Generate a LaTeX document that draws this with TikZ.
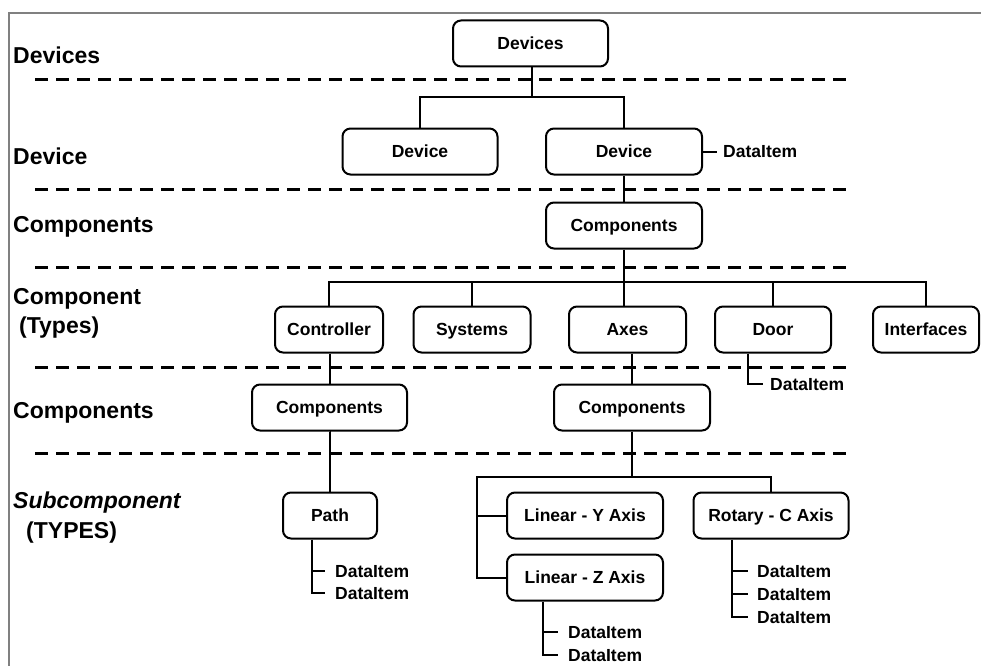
\documentclass[tikz,border=0pt]{standalone}
\usepackage{fontspec}
\setmainfont{Liberation Sans}
\begin{document}
\begin{tikzpicture}[x=1pt,y=-1pt,
  box/.style={draw, rounded corners=8pt, line width=2pt, minimum height=46pt,
    inner sep=0pt, text height=12.5pt, text depth=0pt,
    font=\fontsize{17.5}{20}\selectfont\bfseries},
  item/.style={anchor=west, inner sep=0pt, text height=12.5pt, text depth=0pt,
    font=\fontsize{17.5}{20}\selectfont\bfseries},
  level/.style={anchor=west, inner sep=0pt, text height=16.5pt, text depth=0pt,
    font=\fontsize{23}{26}\selectfont\bfseries},
  link/.style={line width=2pt},
  divider/.style={line width=3pt, dash pattern=on 13pt off 8pt},
  frame/.style={line width=2.5pt, draw=black!50}]
\useasboundingbox (0,0) rectangle (981,666);

% outer frame (top and left edges)
\draw[frame] (981,13) -- (9,13) -- (9,666);

% level dividers
\foreach \yy in {80,189,267,367,453}
  \draw[divider] (35,\yy) -- (850,\yy);

% level names
\node[level] (lDevices) at (13,55) {Devices};
\node[level] (lDevice) at (13,156) {Device};
\node[level] (lComps) at (13,224) {Components};
\node[level] (lComp) at (13,296.5) {Component};
\node[level] (lTypes) at (19,325.5) {(Types)};
\node[level] (lComps2) at (13,410.5) {Components};
\node[level,font=\fontsize{23}{26}\selectfont\bfseries\itshape] (lSub) at (13,500) {Subcomponent};
\node[level] (lTYPES) at (26,530) {(TYPES)};

% nodes
\node[box, minimum width=155pt] (devs) at (530.5,43.5) {Devices};
\node[box, minimum width=155pt] (devL) at (420,151.5) {Device};
\node[box, minimum width=156pt] (devR) at (624,151.5) {Device};
\node[box, minimum width=156pt] (compsA) at (624,225.5) {Components};

\node[box, minimum width=108pt] (ctrl) at (329,329.5) {Controller};
\node[box, minimum width=117pt] (sys) at (472,329.5) {Systems};
\node[box, minimum width=117pt] (axes) at (627.5,329.5) {Axes};
\node[box, minimum width=116pt] (door) at (773,329.5) {Door};
\node[box, minimum width=106pt] (intf) at (926,329.5) {Interfaces};

\node[box, minimum width=155pt] (compsL) at (329.5,407.5) {Components};
\node[box, minimum width=156pt] (compsR) at (632,407.5) {Components};

\node[box, minimum width=94pt] (path) at (330,515.5) {Path};
\node[box, minimum width=156pt] (liny) at (585,515.5) {Linear - Y Axis};
\node[box, minimum width=156pt] (linz) at (585,577.5) {Linear - Z Axis};
\node[box, minimum width=155pt] (rotc) at (771,515.5) {Rotary - C Axis};

% data items
\node[item] (dDev) at (723,151.5) {DataItem};
\node[item] (dDoor) at (770,384) {DataItem};
\node[item] (dP1) at (335,571) {DataItem};
\node[item] (dP2) at (335,593) {DataItem};
\node[item] (dZ1) at (568,632) {DataItem};
\node[item] (dZ2) at (568,655) {DataItem};
\node[item] (dC1) at (757,571) {DataItem};
\node[item] (dC2) at (757,594) {DataItem};
\node[item] (dC3) at (757,617) {DataItem};

% junction points of the trees
\coordinate (b1) at (532,97);
\coordinate (b2) at (624,282);
\coordinate (b3) at (632,477);
\coordinate (lb) at (477,477);

% Devices -> Device, Device
\draw[link] (devs.south -| b1) -- (b1);
\draw[link] (devL.north) -- (devL.north |- b1) -- (devR.north |- b1) -- (devR.north);
\draw[link] (devR.east) -- ([xshift=-6pt]dDev.west);

% Device -> Components -> component types
\draw[link] (devR.south) -- (compsA.north);
\draw[link] (compsA.south) -- (compsA.south |- axes.north);
\draw[link] (ctrl.north) -- (ctrl.north |- b2) -- (intf.north |- b2) -- (intf.north);
\draw[link] (sys.north) -- (sys.north |- b2);
\draw[link] (door.north) -- (door.north |- b2);

% Door data item
\draw[link] ([xshift=-25pt]door.south) |- ([xshift=-7pt]dDoor.west);

% Controller branch
\draw[link] (ctrl.south -| compsL.north) -- (compsL.north);
\draw[link] (compsL.south) -- (compsL.south -| path.north) -- (path.north);
\draw[link] ([xshift=-18pt]path.south) |- ([xshift=-10pt]dP2.west);
\draw[link] ([xshift=-23pt]dP1.west) -- ([xshift=-10pt]dP1.west);

% Axes branch
\draw[link] (compsR.north |- axes.south) -- (compsR.north);
\draw[link] (compsR.south) -- (b3);
\draw[link] (rotc.north) |- (lb) |- (linz.west);
\draw[link] (liny.west) -- (liny.west -| lb);

% Linear - Z data items
\draw[link] ([xshift=-42pt]linz.south) |- ([xshift=-10pt]dZ2.west);
\draw[link] ([xshift=-25pt]dZ1.west) -- ([xshift=-10pt]dZ1.west);

% Rotary - C data items
\draw[link] ([xshift=-39pt]rotc.south) |- ([xshift=-9pt]dC3.west);
\draw[link] ([xshift=-25pt]dC1.west) -- ([xshift=-9pt]dC1.west);
\draw[link] ([xshift=-25pt]dC2.west) -- ([xshift=-9pt]dC2.west);
\end{tikzpicture}
\end{document}
